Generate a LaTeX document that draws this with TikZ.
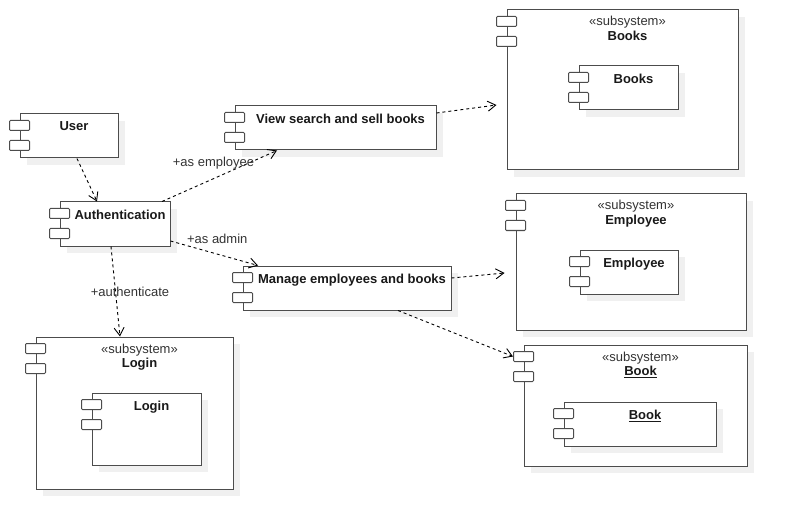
\documentclass[tikz,border=0pt]{standalone}
\usepackage{fontspec}
\setmainfont{Liberation Sans}
\usetikzlibrary{arrows.meta,shadows}

\begin{document}
\begin{tikzpicture}[
    x=1pt, y=-1pt,
    comp/.style={draw=black!70, fill=white, line width=1pt, rectangle, inner sep=0pt,
        drop shadow={shadow xshift=7pt, shadow yshift=-7pt, fill=black!6, opacity=1}},
    port/.style={draw=black!70, fill=white, line width=1pt, rectangle, rounded corners=1pt,
        inner sep=0pt, minimum width=20pt, minimum height=10pt},
    title/.style={font=\fontsize{13}{15}\selectfont\bfseries, text=black!90, anchor=base, inner sep=0pt},
    stereo/.style={font=\fontsize{13}{15}\selectfont, text=black!80, anchor=base, inner sep=0pt},
    lab/.style={font=\fontsize{13}{15}\selectfont, text=black!80, inner sep=0pt},
    dep/.style={-{Straight Barb[length=8pt,width=10pt]}, dash pattern=on 3pt off 3pt, line width=0.9pt}
]
\useasboundingbox (0,0) rectangle (786,529);

% subsystems
\node[comp, minimum width=231pt, minimum height=160pt] (booksys) at (622.5,90) {};
\node[comp, minimum width=230pt, minimum height=136pt] (empsys) at (631,262) {};
\node[comp, minimum width=223pt, minimum height=121pt] (booksub) at (635.5,405.5) {};
\node[comp, minimum width=197pt, minimum height=152pt] (loginsys) at (134.5,413) {};

% components
\node[comp, minimum width=99pt, minimum height=44pt] (booksin) at (628.5,88) {};
\node[comp, minimum width=98pt, minimum height=44pt] (empin) at (629,272) {};
\node[comp, minimum width=152pt, minimum height=44pt] (bookin) at (640,424) {};
\node[comp, minimum width=109pt, minimum height=72pt] (loginin) at (146.5,429) {};
\node[comp, minimum width=98pt, minimum height=44pt] (user) at (69,136) {};
\node[comp, minimum width=110pt, minimum height=44pt] (auth) at (115,224) {};
\node[comp, minimum width=201pt, minimum height=44pt] (view) at (335.5,128) {};
\node[comp, minimum width=208pt, minimum height=44pt] (manage) at (347,288) {};

% ports
\foreach \c in {booksys,empsys,booksub,loginsys,booksin,empin,bookin,loginin,user,auth,view,manage}{
    \node[port] (\c-p1) at ([yshift=-12pt]\c.north west) {};
    \node[port] (\c-p2) at ([yshift=-32pt]\c.north west) {};
}

% texts
\node[stereo] (booksys-s) at ([xshift=5pt, yshift=-16.5pt]booksys.north) {«subsystem»};
\node[title] (booksys-t) at ([xshift=5pt, yshift=-31pt]booksys.north) {Books};
\node[stereo] (empsys-s) at ([xshift=5pt, yshift=-16.5pt]empsys.north) {«subsystem»};
\node[title] (empsys-t) at ([xshift=5pt, yshift=-31pt]empsys.north) {Employee};
\node[stereo] (booksub-s) at ([xshift=5pt, yshift=-16.5pt]booksub.north) {«subsystem»};
\node[title] (booksub-t) at ([xshift=5pt, yshift=-31pt]booksub.north) {\underline{Book}};
\node[stereo] (loginsys-s) at ([xshift=5pt, yshift=-16.5pt]loginsys.north) {«subsystem»};
\node[title] (loginsys-t) at ([xshift=5pt, yshift=-31pt]loginsys.north) {Login};
\node[title] (booksin-t) at ([xshift=5pt, yshift=-18pt]booksin.north) {Books};
\node[title] (empin-t) at ([xshift=5pt, yshift=-18pt]empin.north) {Employee};
\node[title] (bookin-t) at ([xshift=5pt, yshift=-18pt]bookin.north) {\underline{Book}};
\node[title] (loginin-t) at ([xshift=5pt, yshift=-18pt]loginin.north) {Login};
\node[title] (user-t) at ([xshift=5pt, yshift=-17.5pt]user.north) {User};
\node[title] (auth-t) at ([xshift=5pt, yshift=-18pt]auth.north) {Authentication};
\node[title] (view-t) at ([xshift=5pt, yshift=-18pt]view.north) {View search and sell books};
\node[title] (manage-t) at ([xshift=5pt, yshift=-18pt]manage.north) {Manage employees and books};

% dependencies
\draw[dep] ([xshift=8pt]user.south) -- ([xshift=-18pt]auth.north);
\draw[dep] ([xshift=47pt]auth.north) -- node[lab, xshift=-6pt, yshift=13pt] {+as employee} ([xshift=-58.5pt]view.south);
\draw[dep] ([yshift=-17pt]auth.east) -- node[lab, xshift=3pt, yshift=14pt] {+as admin} ([xshift=-89pt]manage.north);
\draw[dep] ([xshift=-4pt]auth.south) -- node[lab, xshift=14.5pt] {+authenticate} ([xshift=-14.5pt]loginsys.north);
\draw[dep] ([yshift=15pt]view.east) -- ([xshift=-10pt, yshift=-15pt]booksys.west);
\draw[dep] ([yshift=10pt]manage.east) -- ([xshift=-11pt, yshift=-11pt]empsys.west);
\draw[dep] ([xshift=51pt]manage.south) -- (booksub-p1.west);
\end{tikzpicture}
\end{document}
